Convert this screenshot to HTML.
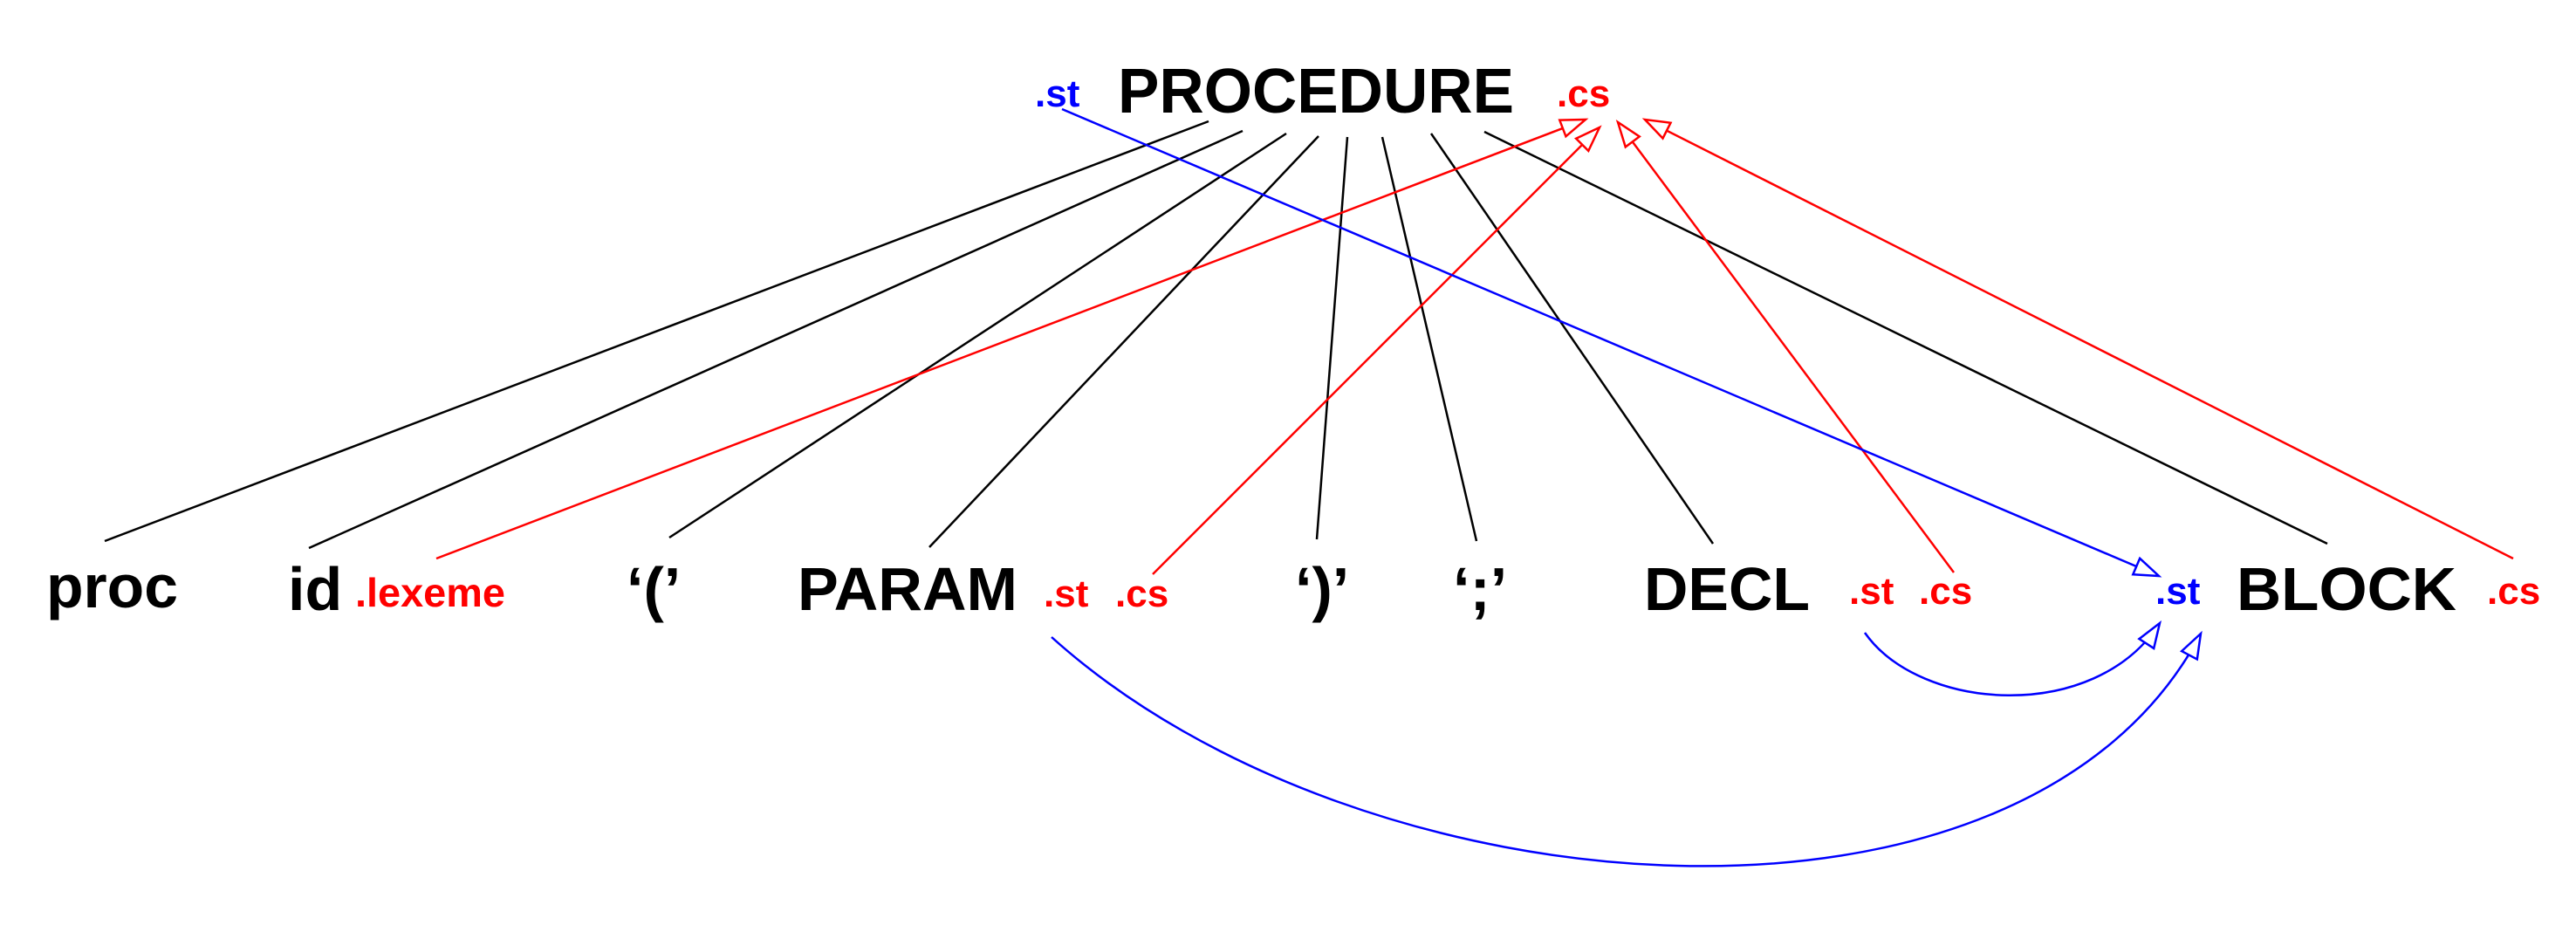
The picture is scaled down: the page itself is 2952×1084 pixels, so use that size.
<!DOCTYPE html>
<html><head><meta charset="utf-8"><style>
html,body{margin:0;padding:0;background:#fff;}
svg{display:block;font-family:"Liberation Sans",Arial,sans-serif;font-weight:bold;}
</style></head><body>
<svg width="2952" height="1084" viewBox="0 0 2952 1084" xmlns="http://www.w3.org/2000/svg">
<defs>
<marker id="ar" markerUnits="userSpaceOnUse" markerWidth="34" markerHeight="30" refX="30" refY="12" orient="auto"><path d="M2,2 L30,12 L2,22 Z" fill="#fff" stroke="#f00" stroke-width="2.5"/></marker>
<marker id="ab" markerUnits="userSpaceOnUse" markerWidth="34" markerHeight="30" refX="30" refY="12" orient="auto"><path d="M2,2 L30,12 L2,22 Z" fill="#fff" stroke="#00f" stroke-width="2.5"/></marker>
</defs>
<g stroke="#000" stroke-width="2.5">
<line x1="1385" y1="139" x2="120" y2="620"/>
<line x1="1424" y1="150" x2="354" y2="628"/>
<line x1="1474" y1="153" x2="767" y2="616"/>
<line x1="1511" y1="156" x2="1065" y2="627"/>
<line x1="1544" y1="157" x2="1509" y2="618"/>
<line x1="1584" y1="157" x2="1692" y2="620"/>
<line x1="1640" y1="153" x2="1963" y2="623"/>
<line x1="1701" y1="151" x2="2667" y2="623"/>
</g>
<g stroke="#f00" stroke-width="2.5" fill="none">
<line x1="500" y1="640" x2="1817" y2="137" marker-end="url(#ar)"/>
<line x1="1321" y1="658" x2="1833" y2="146" marker-end="url(#ar)"/>
<line x1="2239" y1="656" x2="1854" y2="140" marker-end="url(#ar)"/>
<line x1="2880" y1="640" x2="1885" y2="137" marker-end="url(#ar)"/>
</g>
<g stroke="#00f" stroke-width="2.5" fill="none">
<line x1="1217" y1="125" x2="2474" y2="660" marker-end="url(#ab)"/>
<path d="M2137,725 C2200,815 2400,830 2475,714" marker-end="url(#ab)"/>
<path d="M1205,730 C1560,1050 2320,1110 2522,726" marker-end="url(#ab)"/>
</g>
<g>
<text x="1281" y="129" font-size="72" textLength="454" lengthAdjust="spacingAndGlyphs">PROCEDURE</text>
<text x="1186" y="122" font-size="44" fill="#00f">.st</text>
<text x="1784" y="122" font-size="44" fill="#f00">.cs</text>
<text x="53" y="696" font-size="70" textLength="151" lengthAdjust="spacingAndGlyphs">proc</text>
<text x="330" y="699" font-size="70">id</text>
<text x="407" y="695" font-size="46" fill="#f00" textLength="172" lengthAdjust="spacingAndGlyphs">.lexeme</text>
<text x="718" y="699" font-size="70">‘(’</text>
<text x="914" y="699" font-size="70" textLength="252" lengthAdjust="spacingAndGlyphs">PARAM</text>
<text x="1196" y="695" font-size="44" fill="#f00">.st</text>
<text x="1278" y="695" font-size="44" fill="#f00">.cs</text>
<text x="1484" y="699" font-size="70">‘)’</text>
<text x="1665" y="699" font-size="70">‘;’</text>
<text x="1884" y="699" font-size="70" textLength="190" lengthAdjust="spacingAndGlyphs">DECL</text>
<text x="2119" y="692" font-size="44" fill="#f00">.st</text>
<text x="2199" y="692" font-size="44" fill="#f00">.cs</text>
<text x="2470" y="692" font-size="44" fill="#00f">.st</text>
<text x="2563" y="699" font-size="70" textLength="252" lengthAdjust="spacingAndGlyphs">BLOCK</text>
<text x="2850" y="692" font-size="44" fill="#f00">.cs</text>
</g>
</svg>
</body></html>
